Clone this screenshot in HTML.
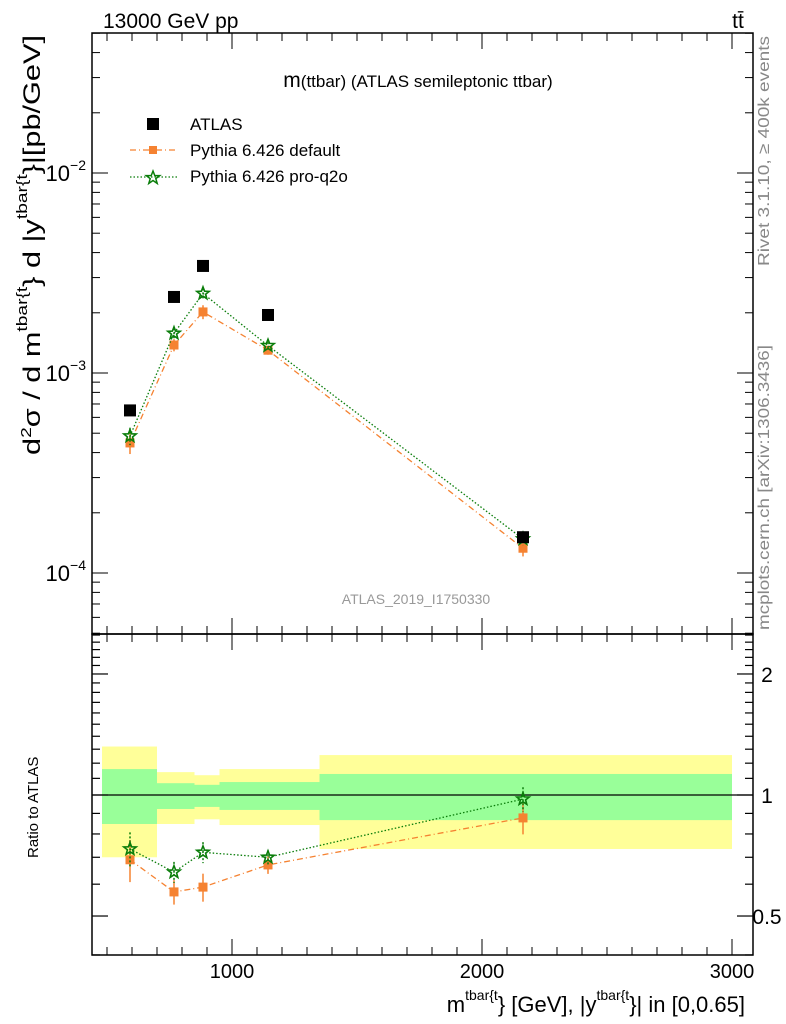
<!DOCTYPE html>
<html><head><meta charset="utf-8"><style>
html,body{margin:0;padding:0;background:#fff;}
svg{display:block;font-family:"Liberation Sans",sans-serif;}
</style></head><body>
<svg id="chart" width="786" height="1024" viewBox="0 0 786 1024" xmlns="http://www.w3.org/2000/svg">
<g id="bands"></g>
<g id="marks"></g>
<g id="axes"></g>
<text x="103" y="28" font-size="21">13000 GeV pp</text>
<text x="738" y="28" font-size="21" text-anchor="middle">tt̄</text>
<text x="418" y="87" font-size="17" text-anchor="middle"><tspan font-size="21">m</tspan>(ttbar) (ATLAS semileptonic ttbar)</text>
<text x="416" y="604" font-size="14" fill="#999" text-anchor="middle">ATLAS_2019_I1750330</text>
<text transform="translate(769,266) rotate(-90)" font-size="16" fill="#888" textLength="230" lengthAdjust="spacingAndGlyphs">Rivet 3.1.10, ≥ 400k events</text>
<text transform="translate(769,630) rotate(-90)" font-size="16" fill="#888" textLength="285" lengthAdjust="spacingAndGlyphs">mcplots.cern.ch [arXiv:1306.3436]</text>
<text transform="translate(40,455) rotate(-90)" font-size="24" textLength="420" lengthAdjust="spacingAndGlyphs">d<tspan font-size="15" dy="-9">2</tspan><tspan dy="9">σ  /  d m</tspan><tspan font-size="15" dy="-13">tbar{t</tspan><tspan dy="13">} d |y</tspan><tspan font-size="15" dy="-13">tbar{t</tspan><tspan dy="13">}|[pb/GeV]</tspan></text>
<text transform="translate(38,858) rotate(-90)" font-size="15">Ratio to ATLAS</text>
<text x="745" y="1012" font-size="22" text-anchor="end">m<tspan font-size="14" dy="-12">tbar{t</tspan><tspan dy="12">} [GeV], |y</tspan><tspan font-size="14" dy="-12">tbar{t</tspan><tspan dy="12">}| in [0,0.65]</tspan></text>
<g>
<rect x="147" y="118" width="12" height="12" fill="#000"/>
<text x="190" y="130" font-size="17">ATLAS</text>
<line x1="130" y1="150" x2="178" y2="150" stroke="#f58231" stroke-width="1.3" stroke-dasharray="6,3,1,3"/>
<rect x="149" y="146" width="8" height="8" fill="#f58231"/>
<text x="190" y="156" font-size="17">Pythia 6.426 default</text>
<line x1="130" y1="177" x2="178" y2="177" stroke="#0a7d0a" stroke-width="1.3" stroke-dasharray="1.5,2"/>
<polygon points="153,171 154.8,175.6 159.7,175.6 155.8,178.6 157.2,183.4 153,180.5 148.8,183.4 150.2,178.6 146.3,175.6 151.2,175.6" fill="none" stroke="#0a7d0a" stroke-width="1.5"/>
<text x="190" y="182" font-size="17">Pythia 6.426 pro-q2o</text>
</g>
</svg>
<script>
const xCenters=[592,768,884,1144,2164];
const binEdges=[480,700,850,950,1350,3000];
const atlasVals=[6.5e-4,2.4e-3,3.43e-3,1.95e-3,1.51e-4];
const defVals=[4.47e-4,1.38e-3,2.02e-3,1.30e-3,1.33e-4];
const defErr=[0.12,0.07,0.08,0.05,0.09];
const q2oVals=[4.84e-4,1.58e-3,2.5e-3,1.37e-3,1.48e-4];
const q2oErr=[0.1,0.06,0.06,0.04,0.07];
const defRatio=[0.69,0.574,0.59,0.67,0.877];
const q2oRatio=[0.734,0.643,0.72,0.70,0.977];
const yellowUp=[1.32,1.14,1.12,1.16,1.257];
const yellowDn=[0.70,0.847,0.87,0.842,0.734];
const greenUp=[1.16,1.07,1.06,1.077,1.128];
const greenDn=[0.847,0.923,0.934,0.918,0.866];
const xTicks=[1000,2000,3000];
const yTicks=[-4,-3,-2];
const rTicks=[0.5,1,2];

const L=92,R=753,T=33,MB=634,B=955;
const X=v=>232+(v-1000)*0.25;
const Y=v=>173-200*(Math.log10(v)+2);
const RY=v=>795-402*Math.log10(v);
const NS="http://www.w3.org/2000/svg";
function mk(tag,attrs,parent){const e=document.createElementNS(NS,tag);for(const k in attrs)e.setAttribute(k,attrs[k]);document.getElementById(parent).appendChild(e);return e;}
function starPts(cx,cy,r){let p=[];for(let k=0;k<10;k++){const a=-Math.PI/2+k*Math.PI/5,rr=k%2?r*0.42:r;p.push((cx+rr*Math.cos(a)).toFixed(1)+','+(cy+rr*Math.sin(a)).toFixed(1));}return p.join(' ');}

for(let i=0;i<xCenters.length;i++){
  const x0=X(binEdges[i]),x1=X(binEdges[i+1]);
  const y=mk('rect',{x:x0,y:RY(yellowUp[i]),width:x1-x0,height:RY(yellowDn[i])-RY(yellowUp[i]),fill:'#ffff99'},'bands');
  
  
  const g=mk('rect',{x:x0,y:RY(greenUp[i]),width:x1-x0,height:RY(greenDn[i])-RY(greenUp[i]),fill:'#99ff99'},'bands');
  
  
}
mk('line',{x1:L,x2:R,y1:RY(1),y2:RY(1),stroke:'#000','stroke-width':1.2},'bands');

function series(vals,err,ratio,color,dash,star,name){
  const pm=xCenters.map((x,i)=>X(x)+','+Y(vals[i])).join(' ');
  const l=mk('polyline',{points:pm,fill:'none',stroke:color,'stroke-width':1.3,'stroke-dasharray':dash},'marks');
  
  
  const pr=xCenters.map((x,i)=>X(x)+','+RY(ratio[i])).join(' ');
  const l2=mk('polyline',{points:pr,fill:'none',stroke:color,'stroke-width':1.3,'stroke-dasharray':dash},'marks');
  
  
  xCenters.forEach((x,i)=>{
    const cx=X(x);
    [[Y(vals[i]),Y(vals[i]*(1+err[i])),Y(vals[i]*(1-err[i]))],[RY(ratio[i]),RY(ratio[i]*(1+err[i])),RY(ratio[i]*(1-err[i]))]].forEach(([cy,yu,yd],k)=>{
      mk('line',{x1:cx,x2:cx,y1:yu,y2:yd,stroke:color,'stroke-width':1.5,'stroke-dasharray':star?'2,2':'none'},'marks');
      let m;
      if(star)m=mk('polygon',{points:starPts(cx,cy,6.5),fill:'none',stroke:color,'stroke-width':1.6},'marks');
      else m=mk('rect',{x:cx-4.5,y:cy-4.5,width:9,height:9,fill:color},'marks');
      
      
    });
  });
}
series(defVals,defErr,defRatio,'#f58231','6,3,1,3',false,'default');
series(q2oVals,q2oErr,q2oRatio,'#0a7d0a','1.5,2',true,'proq2o');
atlasVals.forEach((v,i)=>{
  const m=mk('rect',{x:X(xCenters[i])-6,y:Y(v)-6,width:12,height:12,fill:'#000'},'marks');
  
  
});

mk('rect',{x:L,y:T,width:R-L,height:MB-T,fill:'none',stroke:'#000','stroke-width':1.5},'axes');
mk('rect',{x:L,y:MB,width:R-L,height:B-MB,fill:'none',stroke:'#000','stroke-width':1.5},'axes');
for(let v=500;v<=3000;v+=100){
  const x=X(v),maj=v%1000===0,len=maj?16:8;
  [[T,1],[MB,-1],[MB,1],[B,-1]].forEach(([y0,d])=>mk('line',{x1:x,x2:x,y1:y0,y2:y0+d*len,stroke:'#000'},'axes'));
}
xTicks.forEach(v=>{const t=mk('text',{x:X(v),y:978,'font-size':20,'text-anchor':'middle'},'axes');t.textContent=v;

});
for(let d=-5;d<=-2;d++)for(let m=1;m<=9;m++){
  const v=m*Math.pow(10,d),y=Y(v);if(y<T||y>MB)continue;
  const len=m===1?16:8;
  mk('line',{x1:L,x2:L+len,y1:y,y2:y,stroke:'#000'},'axes');
  mk('line',{x1:R,x2:R-len,y1:y,y2:y,stroke:'#000'},'axes');
}
yTicks.forEach(e=>{const t=mk('text',{x:86,y:Y(Math.pow(10,e))+8,'font-size':22,'text-anchor':'end'},'axes');
t.innerHTML='10<tspan font-size="14" dy="-11">−'+(-e)+'</tspan>';

});
for(let k=4;k<=25;k++){
  const v=k/10,y=RY(v);if(y<MB||y>B)continue;
  const maj=(k===5||k===10||k===20),len=maj?16:8;
  mk('line',{x1:L,x2:L+len,y1:y,y2:y,stroke:'#000','stroke-width':1.2},'axes');
  mk('line',{x1:R,x2:R-len,y1:y,y2:y,stroke:'#000','stroke-width':1.2},'axes');
}
rTicks.forEach(v=>{const t=mk('text',{x:767,y:RY(v)+8,'font-size':21,'text-anchor':'middle'},'axes');t.textContent=v;

});
</script>
</body></html>
